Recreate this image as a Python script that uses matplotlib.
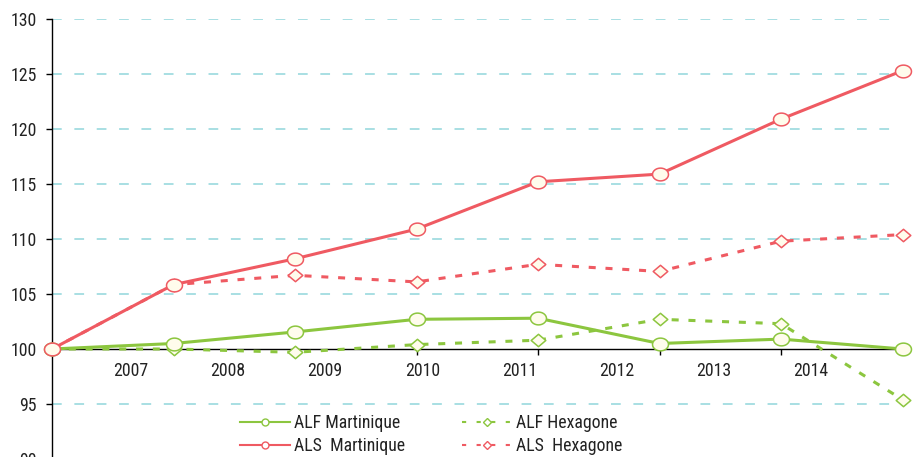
import numpy as np
import matplotlib
matplotlib.use("Agg")
import matplotlib.pyplot as plt
from matplotlib.path import Path
from matplotlib.lines import Line2D

plt.rcParams['font.family'] = ['Roboto Condensed', 'Liberation Sans', 'DejaVu Sans']

# Indices (base 100) -- one value per point, 8 points
points = np.arange(8)
alf_martinique = [100, 100.5, 101.55, 102.7, 102.8, 100.5, 100.9, 100.0]
alf_hexagone = [100, 100.0, 99.7, 100.4, 100.8, 102.7, 102.3, 95.4]
als_martinique = [100, 105.85, 108.2, 110.9, 115.2, 115.9, 120.9, 125.3]
als_hexagone = [100, 105.85, 106.7, 106.1, 107.7, 107.05, 109.8, 110.4]

year_labels = ['2007', '2008', '2009', '2010', '2011', '2012', '2013', '2014']
label_pos = 0.648 + 0.8 * np.arange(len(year_labels))

green = '#8cc63f'
red = '#ef5a62'
face = '#fffcec'
grid_col = '#a8dfe3'

# slightly flattened circle and diamond markers
t = np.linspace(0, 2 * np.pi, 41)
ellipse = Path(np.column_stack([np.cos(t), 0.8 * np.sin(t)]), closed=True)
diamond = Path([(0, 0.85), (1, 0), (0, -0.85), (-1, 0), (0, 0.85)], closed=True)

fig = plt.figure(figsize=(9.19, 4.57), dpi=100)
ax = fig.add_axes([52 / 919, -2 / 457, (895 - 52) / 919, 440 / 457])

ax.set_xlim(0, (895 - 52) / 121.5)
ax.set_ylim(90, 130)

# dashed horizontal grid
for yv in [90, 95, 105, 110, 115, 120, 125, 130]:
    ax.axhline(yv, color=grid_col, lw=1.4, dashes=(5, 6.5), zorder=1)

lw = 2.2
ax.plot(points, alf_hexagone, color=green, lw=lw, dashes=(2.3, 3.2),
        marker=diamond, ms=10.5, mfc=face, mec=green, mew=1.1, clip_on=False, zorder=3)
ax.plot(points, alf_martinique, color=green, lw=lw,
        marker=ellipse, ms=11.5, mfc=face, mec=green, mew=1.1, clip_on=False, zorder=4)
ax.plot(points, als_hexagone, color=red, lw=lw, dashes=(2.3, 3.2),
        marker=diamond, ms=10.5, mfc=face, mec=red, mew=1.1, clip_on=False, zorder=5)
ax.plot(points, als_martinique, color=red, lw=lw,
        marker=ellipse, ms=11.5, mfc=face, mec=red, mew=1.1, clip_on=False, zorder=6)

# axes: left spine and x axis crossing at 100
for s in ['top', 'right']:
    ax.spines[s].set_visible(False)
ax.spines['bottom'].set_position(('data', 100))
ax.spines['left'].set_linewidth(1.0)
ax.spines['bottom'].set_linewidth(1.0)
ax.spines['left'].set_zorder(2)
ax.spines['bottom'].set_zorder(2)

ax.set_yticks(np.arange(90, 131, 5))
ax.tick_params(axis='y', direction='out', length=4, width=1, pad=7, labelsize=12.8,
               labelcolor='#222222')
ax.set_xticks(points[1:7])
ax.set_xticklabels([])
ax.tick_params(axis='x', which='major', direction='out', length=4, width=1)
ax.set_xticks(label_pos, minor=True)
ax.set_xticklabels(year_labels, minor=True)
ax.tick_params(axis='x', which='minor', length=0, pad=9, labelsize=12.8,
               labelcolor='#222222')

handles = [
    Line2D([], [], color=green, lw=1.5, marker='o', ms=5, mfc='white', mec=green),
    Line2D([], [], color=red, lw=1.5, marker='o', ms=5, mfc='white', mec=red),
    Line2D([], [], color=green, lw=1.5, dashes=(2, 5), marker='D', ms=4.5, mfc='white', mec=green),
    Line2D([], [], color=red, lw=1.5, dashes=(2, 5), marker='D', ms=4.5, mfc='white', mec=red),
]
labels = ['ALF Martinique', 'ALS  Martinique', 'ALF Hexagone', 'ALS  Hexagone']
leg = fig.legend(handles, labels, ncol=2, loc='upper left',
                 bbox_to_anchor=(240 / 919, (457 - 414) / 457), frameon=False,
                 fontsize=12.8, handlelength=2.8, handletextpad=0.25,
                 columnspacing=3.2, labelspacing=0.28, borderpad=0, borderaxespad=0)
for txt in leg.get_texts():
    txt.set_color('#222222')

fig.savefig('out.png', dpi=100)
